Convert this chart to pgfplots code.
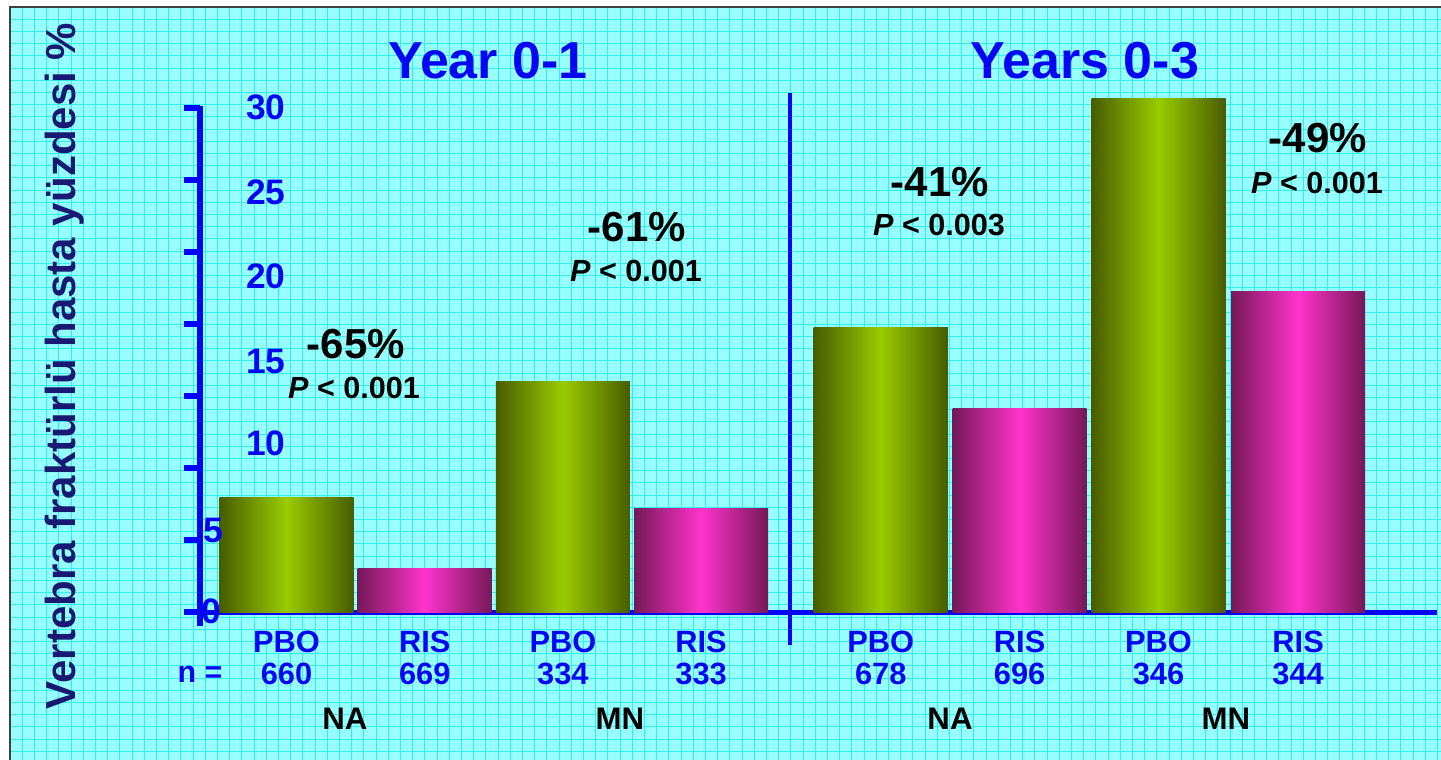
\documentclass[border=0pt]{standalone}
\usepackage{fontspec}
\setmainfont{Liberation Sans}
\usepackage{pgfplots}
\pgfplotsset{compat=1.18}
\definecolor{bgc}{RGB}{152,255,255}
\definecolor{gridc}{RGB}{50,238,238}
\definecolor{axblue}{RGB}{5,5,245}
\definecolor{navy}{RGB}{25,25,115}
\definecolor{gdark}{RGB}{72,92,0}
\definecolor{glight}{RGB}{153,204,0}
\definecolor{mdark}{RGB}{118,24,88}
\definecolor{mlight}{RGB}{255,51,204}
\pgfplotsset{
  pbo/.style={ybar, bar width=0.97, bar shift=0pt, draw=none, left color=gdark, right color=gdark, middle color=glight},
  ris/.style={ybar, bar width=0.97, bar shift=0pt, draw=none, left color=mdark, right color=mdark, middle color=mlight},
}
\begin{document}
\begin{tikzpicture}
\useasboundingbox (-100pt,-74pt) rectangle (620.5pt,306pt);
% background (pixel-like coordinates)
\begin{scope}[x=0.5pt,y=-0.5pt,shift={(-100pt,306pt)}]
  \fill[bgc] (10,7) rectangle (1450,770);
  \foreach \i in {0,...,118} { \draw[gridc,line width=0.45pt] ({10+12.2*\i},7) -- ({10+12.2*\i},770); }
  \foreach \j in {0,...,62} { \draw[gridc,line width=0.45pt] (10,{7+12.2*\j}) -- (1450,{7+12.2*\j}); }
  \draw[black!75,line width=0.7pt] (10,770) -- (10,7) -- (1450,7);
\end{scope}
\begin{axis}[
  at={(0pt,0pt)}, anchor=south west,
  scale only axis, width=618.5pt, height=253pt,
  xmin=-0.6259, xmax=8.325, ymin=0, ymax=30.12,
  axis x line*=bottom, axis y line*=left,
  x axis line style={axblue, line width=2.5pt, shorten <=-7pt},
  y axis line style={axblue, line width=3pt, shorten <=-7pt},
  clip=false,
  tick align=outside,
  major tick length=8pt,
  ytick={0,4.2857,8.5714,12.857,17.143,21.429,25.714,30},
  yticklabels={},
  ytick style={axblue, line width=3pt},
  xtick={0,1,2,3,4.3,5.305,6.31,7.32},
  xtick style={draw=none},
  xticklabels={{PBO\\660},{RIS\\669},{PBO\\334},{RIS\\333},{PBO\\678},{RIS\\696},{PBO\\346},{RIS\\344}},
  xticklabel style={align=center, inner sep=0pt, text=axblue, font=\bfseries\fontsize{15.4}{16}\selectfont, yshift=-1.5pt},
]
% PBO (placebo) bars
\addplot[pbo] coordinates {(0,6.79)};
\addplot[pbo] coordinates {(2,13.75)};
\addplot[pbo] coordinates {(4.3,16.96)};
\addplot[pbo] coordinates {(6.31,30.54)};
% RIS (risedronate) bars
\addplot[ris] coordinates {(1,2.60)};
\addplot[ris] coordinates {(3,6.18)};
\addplot[ris] coordinates {(5.305,12.14)};
\addplot[ris] coordinates {(7.32,19.10)};
\end{axis}
\begin{scope}[x=0.5pt,y=-0.5pt,shift={(-100pt,306pt)}]
  \draw[axblue, line width=2pt] (790,93) -- (790,645);
  % titles
  \node[anchor=base, inner sep=0pt, text=axblue, font=\bfseries\fontsize{26}{30}\selectfont] at (488,79) {Year 0-1};
  \node[anchor=base, inner sep=0pt, text=axblue, font=\bfseries\fontsize{26}{30}\selectfont] at (1085,79) {Years 0-3};
  % y label
  \node[rotate=90, anchor=base, inner sep=0pt, text=navy, font=\bfseries\fontsize{21}{24}\selectfont] at (76,366) {Vertebra fraktürlü hasta yüzdesi \%};
  % y tick labels
  \begin{scope}[every node/.style={inner sep=0pt, text=axblue, font=\bfseries\fontsize{17.7}{20}\selectfont}]
    \node[anchor=base east] at (286,119.5) {30};
    \node[anchor=base east] at (286,204.5) {25};
    \node[anchor=base east] at (286,288.5) {20};
    \node[anchor=base east] at (286,373.5) {15};
    \node[anchor=base east] at (286,455.5) {10};
    \node[anchor=base] at (213,542.5) {5};
    \node[anchor=base] at (211,623.5) {0};
  \end{scope}
  \node[anchor=base, inner sep=0pt, text=axblue, font=\bfseries\fontsize{15.2}{16}\selectfont] at (200,683) {n =};
  % group labels
  \begin{scope}[every node/.style={anchor=base, inner sep=0pt, text=black, font=\bfseries\fontsize{15.6}{18}\selectfont}]
    \node at (345,730) {NA};
    \node at (620,730) {MN};
    \node at (950,730) {NA};
    \node at (1226,730) {MN};
  \end{scope}
  % annotations
  \begin{scope}[every node/.style={anchor=base, inner sep=0pt, text=black}]
    \node[font=\bfseries\fontsize{21}{24}\selectfont] at (356,359) {-65\%};
    \node[font=\bfseries\fontsize{15.3}{18}\selectfont] at (354,399) {\textit{P} < 0.001};
    \node[font=\bfseries\fontsize{21}{24}\selectfont] at (637,242) {-61\%};
    \node[font=\bfseries\fontsize{15.3}{18}\selectfont] at (636,281.5) {\textit{P} < 0.001};
    \node[font=\bfseries\fontsize{21}{24}\selectfont] at (940,197) {-41\%};
    \node[font=\bfseries\fontsize{15.3}{18}\selectfont] at (939,236) {\textit{P} < 0.003};
    \node[font=\bfseries\fontsize{21}{24}\selectfont] at (1318,153) {-49\%};
    \node[font=\bfseries\fontsize{15.3}{18}\selectfont] at (1317,194) {\textit{P} < 0.001};
  \end{scope}
\end{scope}
\end{tikzpicture}
\end{document}
